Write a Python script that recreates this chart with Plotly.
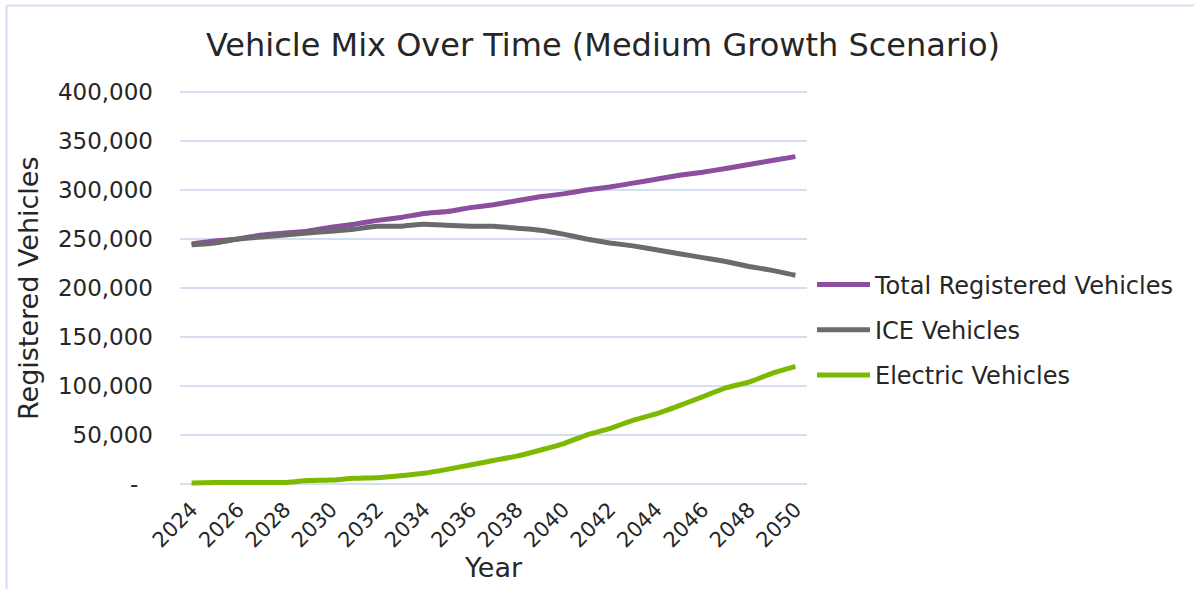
import plotly.graph_objects as go

years = list(range(2024, 2051))
total_registered = [245000, 248000, 250000, 254000, 256000, 258000, 262000, 265000, 269000, 272000,
                    276000, 278000, 282000, 285000, 289000, 293000, 296000, 300000, 303000, 307000,
                    311000, 315000, 318000, 322000, 326000, 330000, 334000]
ice_vehicles = [244000, 246000, 250000, 252000, 254000, 256000, 258000, 260000, 263000, 263000,
                265000, 264000, 263000, 263000, 261000, 259000, 255000, 250000, 246000, 243000,
                239000, 235000, 231000, 227000, 222000, 218000, 213000]
electric_vehicles = [1000, 1500, 1500, 1500, 1500, 3500, 4000, 6000, 6500, 8500,
                     11000, 15000, 19500, 24000, 28500, 34500, 41000, 50000, 56500, 65000,
                     71500, 80000, 89000, 98000, 104000, 113000, 120000]

y_tickvals = [0, 50000, 100000, 150000, 200000, 250000, 300000, 350000, 400000]
y_ticktext = ["-\u00a0\u00a0", "50,000", "100,000", "150,000", "200,000", "250,000", "300,000", "350,000", "400,000"]
x_tickvals = list(range(2024, 2051, 2))
x_ticktext = [str(y) for y in x_tickvals]

series = [
    ("Total Registered Vehicles", total_registered, "#8C4E9F"),
    ("ICE Vehicles", ice_vehicles, "#6B6B6B"),
    ("Electric Vehicles", electric_vehicles, "#7DB900"),
]

FONT = "DejaVu Sans"
W, H = 1194, 589
L, R, T, B = 180, 387, 90, 103
PW, PH = W - L - R, H - T - B

fig = go.Figure()
for i, (name, vals, col) in enumerate(series):
    fig.add_trace(go.Scatter(
        x=years, y=vals, name=name, mode="lines",
        line=dict(color=col, width=5, shape="spline", smoothing=0.4),
        legendgroup=f"g{i}",
    ))

def px_x(px):
    return (px - L) / PW

def px_y(py):
    return (H - B - py) / PH

border_col = "#D3DDF0"
shapes = [
    dict(type="line", xref="paper", yref="paper", x0=px_x(6.5), x1=px_x(1194), y0=px_y(5.5), y1=px_y(5.5),
         line=dict(color=border_col, width=2)),
    dict(type="line", xref="paper", yref="paper", x0=px_x(6.5), x1=px_x(6.5), y0=px_y(5.5), y1=px_y(589),
         line=dict(color=border_col, width=2)),
]

annotations = [
    dict(text="Registered Vehicles", textangle=-90, xref="paper", yref="paper",
         x=px_x(28), y=px_y(288), xanchor="center", yanchor="middle", showarrow=False,
         font=dict(family=FONT, size=27, color="#262626")),
]

fig.update_layout(
    width=W, height=H,
    margin=dict(l=L, r=R, t=T, b=B, pad=0),
    paper_bgcolor="white", plot_bgcolor="white",
    font=dict(family=FONT, size=20, color="#262626"),
    title=dict(text="Vehicle Mix Over Time (Medium Growth Scenario)", x=0.505, xanchor="center",
               y=1 - 45 / H, yanchor="middle", font=dict(family=FONT, size=32, color="#262626")),
    showlegend=True,
    legend=dict(x=px_x(812), xanchor="left", y=px_y(330), yanchor="middle",
                font=dict(family=FONT, size=24, color="#262626"),
                tracegroupgap=11, bgcolor="rgba(0,0,0,0)", itemwidth=53),
    shapes=shapes,
    annotations=annotations,
)

fig.update_xaxes(
    range=[2023.5, 2050.5], tickvals=x_tickvals, ticktext=x_ticktext, tickangle=-45,
    showgrid=False, zeroline=False, showline=False, ticks="",
    ticklabelstandoff=6,
    tickfont=dict(family=FONT, size=21, color="#262626"),
    title=dict(text="Year", font=dict(family=FONT, size=27, color="#262626"), standoff=6),
)
fig.update_yaxes(
    range=[-2000, 402000], tickvals=y_tickvals, ticktext=y_ticktext,
    showgrid=True, gridcolor="#D5DFF1", gridwidth=1.5, zeroline=False, showline=False, ticks="",
    ticklabelstandoff=26,
    tickfont=dict(family=FONT, size=23, color="#262626"),
)

fig.write_html("out.html")
